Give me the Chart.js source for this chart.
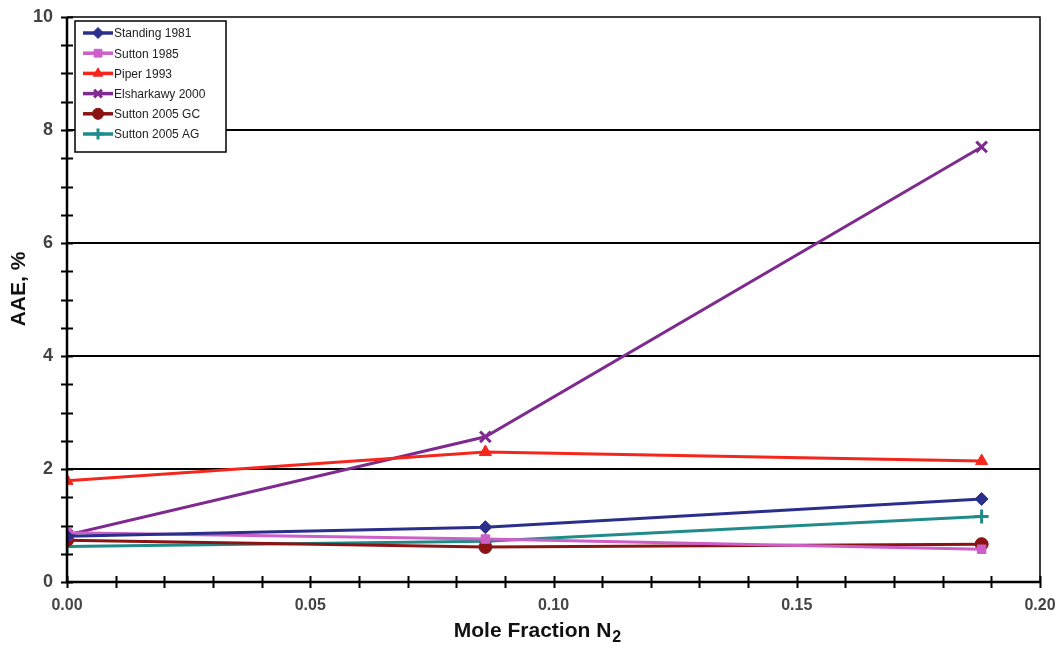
<!DOCTYPE html>
<html>
<head>
<meta charset="utf-8">
<title>AAE vs Mole Fraction N2</title>
<script src="https://cdn.jsdelivr.net/npm/chart.js@4.4.1/dist/chart.umd.min.js"></script>
<style>
  html, body { margin: 0; padding: 0; background: #fff; }
  #wrap { width: 1061px; height: 648px; }
</style>
</head>
<body>
<div id="wrap"><canvas id="aaeChart" width="1061" height="648"></canvas></div>
<script>
// Mole fraction of N2 for each sample set
const moleFractions = [0.0, 0.086, 0.188];

// Average absolute error (%) per correlation
const standing1981 = [0.81, 0.97, 1.47];
const sutton1985 = [0.87, 0.76, 0.58];
const piper1993 = [1.79, 2.30, 2.14];
const elsharkawy2000 = [0.83, 2.57, 7.70];
const sutton2005GC = [0.74, 0.62, 0.67];
const sutton2005AG = [0.63, 0.72, 1.16];

const yTickLabels = [0, 2, 4, 6, 8, 10];
const xTickLabels = ['0.00', '0.05', '0.10', '0.15', '0.20'];

const FONT = '"Liberation Sans", Arial, sans-serif';

function toPoints(values) {
    return values.map((v, i) => ({ x: moleFractions[i], y: v }));
}

function serie(label, values, color, style, radius) {
    return {
        label: label,
        data: toPoints(values),
        borderColor: color,
        backgroundColor: color,
        borderWidth: 3,
        pointStyle: style,
        pointRadius: radius,
        pointBorderWidth: style === 'crossRot' || style === 'cross' ? 3 : 1,
        pointBorderColor: color,
        pointBackgroundColor: color,
        tension: 0
    };
}

const datasets = [
    serie('Standing 1981', standing1981, '#2b2f8c', 'rectRot', 6.5),
    serie('Sutton 1985', sutton1985, '#cc5fc8', 'rect', 6),
    serie('Piper 1993', piper1993, '#f5261b', 'triangle', 7),
    serie('Elsharkawy 2000', elsharkawy2000, '#7e2a8e', 'crossRot', 7.5),
    serie('Sutton 2005 GC', sutton2005GC, '#8a1414', 'circle', 6.5),
    serie('Sutton 2005 AG', sutton2005AG, '#1f8c8a', 'cross', 7)
];

// no extra room for tick label overflow, the plot frame is placed by layout padding
function noOverflow(scale) {
    scale.paddingTop = 0;
    scale.paddingBottom = 0;
    scale.paddingLeft = 0;
    scale.paddingRight = 0;
}

// Frame, crossing tick marks, axis titles and the inset legend
const framePlugin = {
    id: 'frame',
    afterDraw(chart) {
        const ctx = chart.ctx;
        const area = chart.chartArea;
        const xs = chart.scales.x;
        const ys = chart.scales.y;
        ctx.save();

        // thin border on top and right
        ctx.strokeStyle = '#000';
        ctx.lineWidth = 1.5;
        ctx.beginPath();
        ctx.moveTo(area.left, area.top);
        ctx.lineTo(area.right, area.top);
        ctx.lineTo(area.right, area.bottom);
        ctx.stroke();

        // heavier axis lines
        ctx.lineWidth = 2.5;
        ctx.beginPath();
        ctx.moveTo(area.left, area.top);
        ctx.lineTo(area.left, area.bottom);
        ctx.lineTo(area.right, area.bottom);
        ctx.stroke();

        // tick marks crossing the axes
        ctx.lineWidth = 2;
        ctx.beginPath();
        for (let v = 0; v <= 20; v++) {
            const px = Math.round(xs.getPixelForValue(v / 100)) + 0.5;
            ctx.moveTo(px, area.bottom - 6);
            ctx.lineTo(px, area.bottom + 6);
        }
        for (let v = 0; v <= 20; v++) {
            const py = Math.round(ys.getPixelForValue(v / 2)) + 0.5;
            ctx.moveTo(area.left - 6, py);
            ctx.lineTo(area.left + 6, py);
        }
        ctx.stroke();

        // y axis title
        ctx.fillStyle = '#111';
        ctx.font = 'bold 21px ' + FONT;
        ctx.textAlign = 'center';
        ctx.textBaseline = 'middle';
        ctx.save();
        ctx.translate(19, 289);
        ctx.rotate(-Math.PI / 2);
        ctx.fillText('AAE, %', 0, 0);
        ctx.restore();

        // x axis title with subscript 2
        const main = 'Mole Fraction N';
        ctx.font = 'bold 21px ' + FONT;
        const wMain = ctx.measureText(main).width;
        ctx.font = 'bold 16px ' + FONT;
        const wSub = ctx.measureText('2').width;
        const startX = 537 - (wMain + wSub) / 2;
        ctx.textAlign = 'left';
        ctx.textBaseline = 'alphabetic';
        ctx.font = 'bold 21px ' + FONT;
        ctx.fillText(main, startX, 637);
        ctx.font = 'bold 16px ' + FONT;
        ctx.fillText('2', startX + wMain + 1, 642);

        // legend box
        const lx = 75, ly = 21, lw = 151, lh = 131;
        ctx.fillStyle = '#fff';
        ctx.fillRect(lx, ly, lw, lh);
        ctx.strokeStyle = '#000';
        ctx.lineWidth = 1.5;
        ctx.strokeRect(lx, ly, lw, lh);

        ctx.font = '12px ' + FONT;
        ctx.textBaseline = 'middle';
        chart.data.datasets.forEach((ds, i) => {
            const y = ly + 12 + i * 20.2;
            ctx.strokeStyle = ds.borderColor;
            ctx.lineWidth = 3.5;
            ctx.beginPath();
            ctx.moveTo(lx + 8, y);
            ctx.lineTo(lx + 38, y);
            ctx.stroke();
            // markers on the legend lines
            ctx.fillStyle = ds.borderColor;
            ctx.lineWidth = ds.pointBorderWidth;
            Chart.helpers.drawPoint(ctx, {
                pointStyle: ds.pointStyle,
                radius: 5.5,
                rotation: 0,
                borderWidth: ds.pointBorderWidth
            }, lx + 23, y);
            ctx.fillStyle = '#222';
            ctx.fillText(ds.label, lx + 39, y + 1);
        });
        ctx.restore();
    }
};

const ctx = document.getElementById('aaeChart').getContext('2d');
new Chart(ctx, {
    type: 'line',
    data: { datasets: datasets },
    plugins: [framePlugin],
    options: {
        responsive: false,
        animation: false,
        layout: { padding: { top: 17, right: 21, left: 0, bottom: 0 } },
        plugins: {
            legend: { display: false },
            tooltip: { enabled: false }
        },
        scales: {
            x: {
                type: 'linear',
                min: 0,
                max: 0.2,
                afterFit(scale) { scale.height = 66; noOverflow(scale); },
                afterBuildTicks(scale) {
                    scale.ticks = [];
                    for (let v = 0; v <= 20; v++) scale.ticks.push({ value: v / 100 });
                },
                ticks: {
                    autoSkip: false,
                    maxRotation: 0,
                    padding: 14,
                    color: '#444',
                    font: { family: FONT, size: 16, weight: 'bold' },
                    callback(value) {
                        const hund = Math.round(value * 100);
                        return hund % 5 === 0 ? xTickLabels[hund / 5] : '';
                    }
                },
                grid: { display: false, drawTicks: false },
                border: { display: false },
                title: { display: false }
            },
            y: {
                type: 'linear',
                min: 0,
                max: 10,
                afterFit(scale) { scale.width = 67; noOverflow(scale); },
                afterBuildTicks(scale) {
                    scale.ticks = [];
                    for (let v = 0; v <= 20; v++) scale.ticks.push({ value: v / 2 });
                },
                ticks: {
                    autoSkip: false,
                    padding: 14,
                    color: '#444',
                    font: { family: FONT, size: 18, weight: 'bold' },
                    callback(value) {
                        return yTickLabels.includes(value) ? String(value) : '';
                    }
                },
                grid: {
                    drawTicks: false,
                    lineWidth: 2,
                    color(c) {
                        const v = c.tick.value;
                        return v > 0 && v < 10 && v % 2 === 0 ? '#000' : 'rgba(0,0,0,0)';
                    }
                },
                border: { display: false },
                title: { display: false }
            }
        }
    }
});
</script>
</body>
</html>
